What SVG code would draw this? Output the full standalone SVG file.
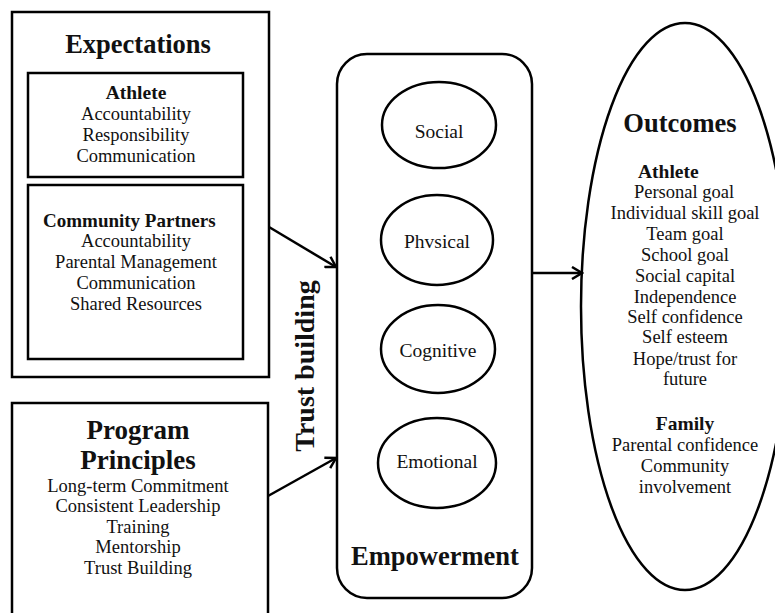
<svg xmlns="http://www.w3.org/2000/svg" width="775" height="613" viewBox="0 0 775 613">
<defs>
<style>
.box{fill:none;stroke:#000;stroke-width:2.5}
.t{font-family:"Liberation Serif","Times New Roman",serif;font-size:18.5px;fill:#111;text-anchor:middle}
.b{font-weight:bold}
.h{font-family:"Liberation Serif","Times New Roman",serif;font-size:26.5px;font-weight:bold;fill:#111;text-anchor:middle}
.c{fill:none;stroke:#000;stroke-width:2.5}
</style>
<marker id="arr" markerWidth="14" markerHeight="14" refX="12" refY="7" orient="auto" markerUnits="userSpaceOnUse">
<path d="M2,1 L12,7 L2,13" fill="none" stroke="#000" stroke-width="2.5"/>
</marker>
</defs>
<rect width="775" height="613" fill="#fff"/>
<g id="expectations">
<rect class="box" x="12" y="12" width="257" height="365"/>
<text class="h" x="138" y="53">Expectations</text>
</g>
<g id="athlete-exp">
<rect class="box" x="28" y="73" width="215" height="104"/>
<text class="t b" x="136" y="99" style="font-size:19.5px">Athlete</text>
<text class="t" x="136" y="120">Accountability</text>
<text class="t" x="136" y="141">Responsibility</text>
<text class="t" x="136" y="162">Communication</text>
</g>
<g id="community-exp">
<rect class="box" x="28" y="185" width="215" height="174"/>
<text class="t b" x="43" y="227" style="text-anchor:start;font-size:19px">Community Partners</text>
<text class="t" x="136" y="247">Accountability</text>
<text class="t" x="136" y="268">Parental Management</text>
<text class="t" x="136" y="289">Communication</text>
<text class="t" x="136" y="310">Shared Resources</text>
</g>
<g id="program">
<rect class="box" x="12" y="403" width="256" height="230"/>
<text class="h" x="138" y="439" style="font-size:27px">Program</text>
<text class="h" x="138" y="469" style="font-size:27px">Principles</text>
<text class="t" x="138" y="492">Long-term Commitment</text>
<text class="t" x="138" y="512">Consistent Leadership</text>
<text class="t" x="138" y="533">Training</text>
<text class="t" x="138" y="553">Mentorship</text>
<text class="t" x="138" y="574">Trust Building</text>
</g>
<g id="empowerment">
<rect class="box" x="337" y="54" width="195" height="544" rx="30" ry="30"/>
<text class="h" x="435" y="565">Empowerment</text>
</g>
<g id="social">
<ellipse class="box" cx="439" cy="125" rx="57" ry="43"/>
<text class="t" x="439" y="138" style="font-size:19.5px">Social</text>
</g>
<g id="physical">
<ellipse class="box" cx="437" cy="240" rx="56" ry="45"/>
<text class="t" x="437" y="248" style="font-size:19.5px">Phvsical</text>
</g>
<g id="cognitive">
<ellipse class="box" cx="438" cy="349" rx="57" ry="44"/>
<text class="t" x="438" y="357" style="font-size:19.5px">Cognitive</text>
</g>
<g id="emotional">
<ellipse class="box" cx="437" cy="463" rx="59" ry="45"/>
<text class="t" x="437" y="468" style="font-size:19.5px">Emotional</text>
</g>
<g id="outcomes">
<ellipse class="box" cx="685" cy="306.5" rx="104" ry="283.5"/>
<text class="h" x="680" y="132">Outcomes</text>
<text class="t b" x="638" y="178" style="text-anchor:start;font-size:19.5px">Athlete</text>
<text class="t" x="684" y="198">Personal goal</text>
<text class="t" x="685" y="219">Individual skill goal</text>
<text class="t" x="685" y="240">Team goal</text>
<text class="t" x="685" y="261">School goal</text>
<text class="t" x="685" y="282">Social capital</text>
<text class="t" x="685" y="303">Independence</text>
<text class="t" x="685" y="323">Self confidence</text>
<text class="t" x="685" y="343">Self esteem</text>
<text class="t" x="685" y="365">Hope/trust for</text>
<text class="t" x="685" y="385">future</text>
<text class="t b" x="685" y="430" style="font-size:19.5px">Family</text>
<text class="t" x="685" y="451">Parental confidence</text>
<text class="t" x="685" y="472">Community</text>
<text class="t" x="685" y="493">involvement</text>
</g>
<g id="connectors">
<line class="c" x1="269" y1="227" x2="336" y2="267" marker-end="url(#arr)"/>
<line class="c" x1="268" y1="496" x2="336" y2="458" marker-end="url(#arr)"/>
<line class="c" x1="532" y1="273" x2="582" y2="273" marker-end="url(#arr)"/>
<text class="h" transform="translate(314,366) rotate(-90)" style="font-size:28px">Trust building</text>
</g>
</svg>
